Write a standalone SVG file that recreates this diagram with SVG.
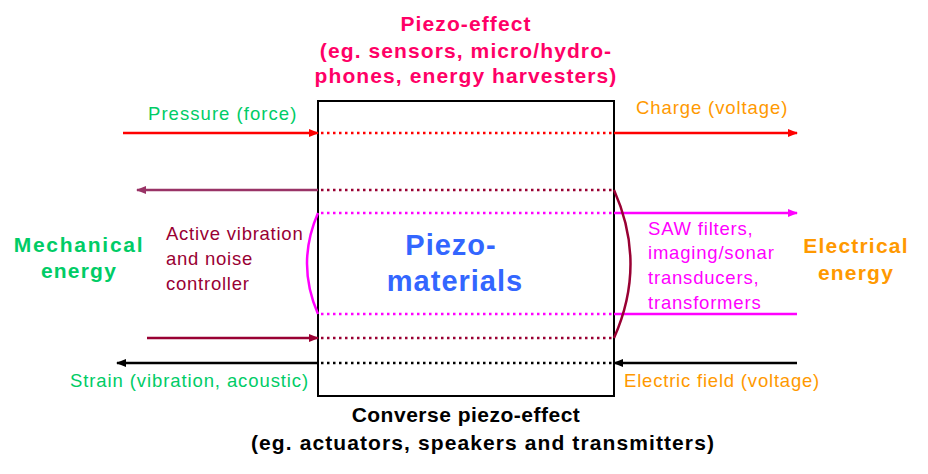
<svg xmlns="http://www.w3.org/2000/svg" width="928" height="474" viewBox="0 0 928 474">
<defs>
<style>
text{font-family:"Liberation Sans",Arial,sans-serif}
.t{font-size:21px;font-weight:bold;letter-spacing:1.1px;text-anchor:middle}
.l{font-size:18.5px;letter-spacing:0.9px}
.big{font-size:21px;font-weight:bold;letter-spacing:1.2px;text-anchor:middle}
.dot{stroke-width:2.5;stroke-dasharray:2.5 3.5;fill:none}
.ln{stroke-width:2.5;fill:none}
</style>
<marker id="aRed" viewBox="0 0 10 10" refX="9" refY="5" markerWidth="4" markerHeight="4" orient="auto"><path d="M0,1 L10,5 L0,9 Z" fill="#FF0000"/></marker>
<marker id="aPur" viewBox="0 0 10 10" refX="9" refY="5" markerWidth="4" markerHeight="4" orient="auto"><path d="M0,1 L10,5 L0,9 Z" fill="#993366"/></marker>
<marker id="aDr" viewBox="0 0 10 10" refX="9" refY="5" markerWidth="4" markerHeight="4" orient="auto"><path d="M0,1 L10,5 L0,9 Z" fill="#990033"/></marker>
<marker id="aMag" viewBox="0 0 10 10" refX="9" refY="5" markerWidth="4" markerHeight="4" orient="auto"><path d="M0,1 L10,5 L0,9 Z" fill="#FF00FF"/></marker>
<marker id="aBlk" viewBox="0 0 10 10" refX="9" refY="5" markerWidth="4" markerHeight="4" orient="auto"><path d="M0,1 L10,5 L0,9 Z" fill="#000000"/></marker>
</defs>
<rect width="928" height="474" fill="#FFFFFF"/>

<g id="box">
<rect x="318" y="101" width="296" height="295" fill="none" stroke="#000000" stroke-width="2"/>
<text x="451" y="255" font-size="29" font-weight="bold" fill="#3366FF" text-anchor="middle" letter-spacing="1">Piezo-</text>
<text x="455" y="291" font-size="29" font-weight="bold" fill="#3366FF" text-anchor="middle" letter-spacing="1">materials</text>
</g>

<g id="connectors">
<line class="ln" x1="123" y1="133" x2="318" y2="133" stroke="#FF0000" marker-end="url(#aRed)"/>
<line class="dot" x1="321" y1="133" x2="612" y2="133" stroke="#FF0000"/>
<line class="ln" x1="614" y1="133" x2="797" y2="133" stroke="#FF0000" marker-end="url(#aRed)"/>

<line class="ln" x1="318" y1="190" x2="137" y2="190" stroke="#993366" marker-end="url(#aPur)"/>
<line class="dot" x1="321" y1="190" x2="612" y2="190" stroke="#990033"/>

<line class="dot" x1="321" y1="213" x2="612" y2="213" stroke="#FF00FF"/>
<line class="ln" x1="614" y1="213" x2="797" y2="213" stroke="#FF00FF" marker-end="url(#aMag)"/>
<line class="dot" x1="321" y1="314" x2="612" y2="314" stroke="#FF00FF"/>
<line class="ln" x1="614" y1="314" x2="797" y2="314" stroke="#FF00FF"/>
<path class="ln" d="M318,213 Q296,263.5 318,314" stroke="#FF00FF" stroke-width="2"/>
<path class="ln" d="M614,190 Q647,264 614,338" stroke="#990033" stroke-width="2"/>

<line class="ln" x1="147" y1="338" x2="318" y2="338" stroke="#990033" marker-end="url(#aDr)"/>
<line class="dot" x1="321" y1="338" x2="612" y2="338" stroke="#990033"/>

<line class="ln" x1="318" y1="363" x2="117" y2="363" stroke="#000000" marker-end="url(#aBlk)"/>
<line class="dot" x1="321" y1="363" x2="612" y2="363" stroke="#000000"/>
<line class="ln" x1="797" y1="363" x2="614" y2="363" stroke="#000000" marker-end="url(#aBlk)"/>
</g>

<g id="top-label">
<text class="t" x="466" y="31" fill="#FF0066">Piezo-effect</text>
<text class="t" x="466" y="58" fill="#FF0066">(eg. sensors, micro/hydro-</text>
<text class="t" x="466" y="83" fill="#FF0066">phones, energy harvesters)</text>
</g>

<g id="bottom-label">
<text class="t" x="466" y="422" fill="#000000" style="letter-spacing:0.5px">Converse piezo-effect</text>
<text class="t" x="483" y="450" fill="#000000">(eg. actuators, speakers and transmitters)</text>
</g>

<g id="mechanical">
<text class="big" x="79" y="252" fill="#00CC66" style="letter-spacing:1.75px">Mechanical</text>
<text class="big" x="79" y="278" fill="#00CC66">energy</text>
</g>

<g id="electrical">
<text class="big" x="856" y="253" fill="#FF9900">Electrical</text>
<text class="big" x="856" y="280" fill="#FF9900">energy</text>
</g>

<g id="labels">
<text class="l" x="148" y="120" fill="#00CC66" style="letter-spacing:1.05px">Pressure (force)</text>
<text class="l" x="636" y="114" fill="#FF9900">Charge (voltage)</text>
<text class="l" x="166" y="240" fill="#990033" style="letter-spacing:0.75px">Active vibration</text>
<text class="l" x="166" y="265" fill="#990033" style="letter-spacing:0.75px">and noise</text>
<text class="l" x="166" y="290" fill="#990033" style="letter-spacing:0.75px">controller</text>
<text class="l" x="648" y="235" fill="#FF00FF" style="letter-spacing:0.8px">SAW filters,</text>
<text class="l" x="648" y="259" fill="#FF00FF" style="letter-spacing:0.8px">imaging/sonar</text>
<text class="l" x="648" y="284" fill="#FF00FF" style="letter-spacing:0.8px">transducers,</text>
<text class="l" x="648" y="309" fill="#FF00FF" style="letter-spacing:0.8px">transformers</text>
<text class="l" x="70" y="387" fill="#00CC66">Strain (vibration, acoustic)</text>
<text class="l" x="624" y="387" fill="#FF9900" style="letter-spacing:0.8px">Electric field (voltage)</text>
</g>
</svg>
